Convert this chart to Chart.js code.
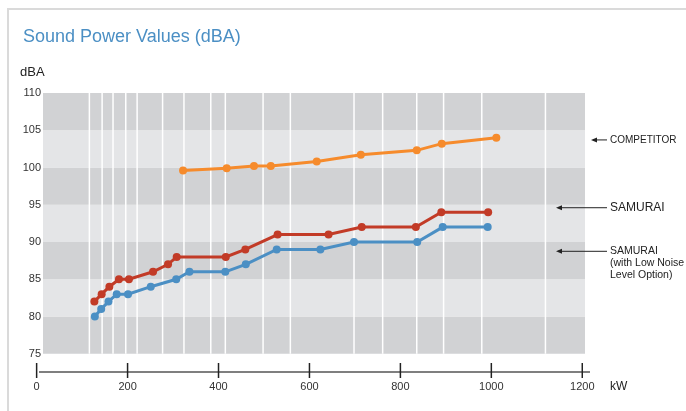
<!DOCTYPE html>
<html>
<head>
<meta charset="utf-8">
<script src="https://cdn.jsdelivr.net/npm/chart.js@4.4.1/dist/chart.umd.min.js"></script>
<style>
  html, body { margin: 0; padding: 0; background: #fff; overflow: hidden; }
  #frame { position: absolute; left: 7px; top: 8px; width: 720px; height: 440px;
           border-left: 2px solid #dadada; border-top: 2px solid #dadada; }
  #soundChart { position: absolute; left: 0; top: 0; }
</style>
</head>
<body>
<div id="frame"></div>
<canvas id="soundChart" width="686" height="411"></canvas>
<script>
// values (kW / dBA)
const competitorKw  = [322, 418, 478, 515, 616, 713, 836, 891, 1011];
const competitorDba = [99.6, 99.9, 100.2, 100.2, 100.8, 101.7, 102.3, 103.2, 104];

const samuraiKw  = [127, 143, 160, 181, 203, 256, 289, 308, 416, 459, 530, 642, 715, 834, 890, 993];
const samuraiDba = [82, 83, 84, 85, 85, 86, 87, 88, 88, 89, 91, 91, 92, 92, 94, 94];

const lowNoiseKw  = [128, 142, 158, 176, 201, 251, 307, 336, 415, 460, 528, 624, 698, 837, 893, 992];
const lowNoiseDba = [80, 81, 82, 83, 83, 84, 85, 86, 86, 87, 89, 89, 90, 90, 92, 92];

// white vertical lines of the plot background
const gridKw = [116, 144, 168, 196, 221, 277, 324, 383, 415, 498, 558, 698, 761, 836, 895, 979, 1119];

const xTicks = [0, 200, 400, 600, 800, 1000, 1200];
const yTicks = [75, 80, 85, 90, 95, 100, 105, 110];

// labels on the right, with the dBA level their arrow points at
const seriesLabels = [
    { lines: ['COMPETITOR'], dba: 103.7, size: 10, arrowFrom: 6 },
    { lines: ['SAMURAI'], dba: 94.6, size: 12, arrowFrom: -29 },
    { lines: ['SAMURAI', '(with Low Noise', 'Level Option)'], dba: 88.75, size: 10.5, arrowFrom: -29 }
];

const FONT = "'Liberation Sans', Arial, Helvetica, sans-serif";

function toPoints(xs, ys) {
    return xs.map((v, i) => ({ x: v, y: ys[i] }));
}

const backgroundPlugin = {
    id: 'background',
    beforeDatasetsDraw(chart) {
        const { ctx, chartArea, scales: { x, y } } = chart;
        ctx.save();
        for (let i = 0; i < yTicks.length - 1; i++) {
            const top = y.getPixelForValue(yTicks[i + 1]);
            const bottom = y.getPixelForValue(yTicks[i]);
            ctx.fillStyle = i % 2 === 0 ? '#d1d2d4' : '#e4e5e7';
            ctx.fillRect(chartArea.left, top, chartArea.right - chartArea.left, bottom - top);
        }
        ctx.strokeStyle = '#ffffff';
        ctx.lineWidth = 1.5;
        const yTop = y.getPixelForValue(yTicks[yTicks.length - 1]);
        const yBottom = y.getPixelForValue(yTicks[0]);
        gridKw.forEach(v => {
            const px = x.getPixelForValue(v);
            ctx.beginPath();
            ctx.moveTo(px, yTop);
            ctx.lineTo(px, yBottom);
            ctx.stroke();
        });
        ctx.restore();
    }
};

const decorPlugin = {
    id: 'decor',
    afterDraw(chart) {
        const { ctx, chartArea, scales: { x, y } } = chart;
        ctx.save();

        // x axis line with crossing ticks
        ctx.strokeStyle = '#555';
        ctx.lineWidth = 1.5;
        ctx.beginPath();
        ctx.moveTo(chartArea.left - 4, chartArea.bottom);
        ctx.lineTo(chartArea.right + 5, chartArea.bottom);
        ctx.stroke();
        ctx.strokeStyle = '#222';
        xTicks.forEach(v => {
            const px = x.getPixelForValue(v);
            ctx.beginPath();
            ctx.moveTo(px, chartArea.bottom - 9);
            ctx.lineTo(px, chartArea.bottom + 6);
            ctx.stroke();
        });

        // title and units
        ctx.textBaseline = 'alphabetic';
        ctx.textAlign = 'left';
        ctx.fillStyle = '#4b8fc4';
        ctx.font = '18px ' + FONT;
        ctx.fillText('Sound Power Values (dBA)', 23, 42);
        ctx.fillStyle = '#222';
        ctx.font = '13px ' + FONT;
        ctx.fillText('dBA', 20, 76);
        ctx.textBaseline = 'middle';
        ctx.font = '12px ' + FONT;
        ctx.fillText('kW', chartArea.right + 25, chartArea.bottom + 15);

        // series labels with arrows
        const textX = chartArea.right + 25;
        seriesLabels.forEach(lab => {
            const py = y.getPixelForValue(lab.dba);
            const tip = chartArea.right + lab.arrowFrom;
            ctx.strokeStyle = '#222';
            ctx.lineWidth = 1;
            ctx.beginPath();
            ctx.moveTo(tip + 2, py);
            ctx.lineTo(textX - 3, py);
            ctx.stroke();
            ctx.fillStyle = '#222';
            ctx.beginPath();
            ctx.moveTo(tip, py);
            ctx.lineTo(tip + 6, py - 2.5);
            ctx.lineTo(tip + 6, py + 2.5);
            ctx.closePath();
            ctx.fill();
            ctx.font = lab.size + 'px ' + FONT;
            lab.lines.forEach((t, i) => {
                ctx.fillText(t, textX, py + i * 12);
            });
        });
        ctx.restore();
    }
};

const ctx = document.getElementById('soundChart').getContext('2d');

new Chart(ctx, {
    type: 'line',
    data: {
        datasets: [
            {
                label: 'COMPETITOR',
                data: toPoints(competitorKw, competitorDba),
                borderColor: '#f68b2c',
                backgroundColor: '#f68b2c'
            },
            {
                label: 'SAMURAI',
                data: toPoints(samuraiKw, samuraiDba),
                borderColor: '#c23b27',
                backgroundColor: '#c23b27'
            },
            {
                label: 'SAMURAI (with Low Noise Level Option)',
                data: toPoints(lowNoiseKw, lowNoiseDba),
                borderColor: '#4b8fc4',
                backgroundColor: '#4b8fc4'
            }
        ]
    },
    options: {
        responsive: false,
        animation: false,
        layout: { padding: { top: 93, right: 101, bottom: 0, left: 0 } },
        elements: {
            line: { borderWidth: 3, tension: 0 },
            point: { radius: 4, borderWidth: 0, hoverRadius: 4 }
        },
        plugins: {
            legend: { display: false },
            tooltip: { enabled: false }
        },
        scales: {
            x: {
                type: 'linear',
                min: 14,
                max: 1206,
                afterBuildTicks: scale => { scale.ticks = xTicks.map(v => ({ value: v })); },
                afterFit: scale => { scale.height = 39; },
                grid: { display: false, drawTicks: false },
                border: { display: false },
                ticks: {
                    autoSkip: false,
                    maxRotation: 0,
                    padding: 8,
                    color: '#333',
                    font: { family: FONT, size: 11 },
                    callback: v => String(v)
                }
            },
            y: {
                min: 72.55,
                max: 110,
                afterBuildTicks: scale => { scale.ticks = yTicks.map(v => ({ value: v })); },
                afterFit: scale => { scale.width = 43; },
                grid: { display: false, drawTicks: false },
                border: { display: false },
                ticks: {
                    padding: 2,
                    color: '#333',
                    font: { family: FONT, size: 11 },
                    callback: v => String(v)
                }
            }
        }
    },
    plugins: [backgroundPlugin, decorPlugin]
});
</script>
</body>
</html>
